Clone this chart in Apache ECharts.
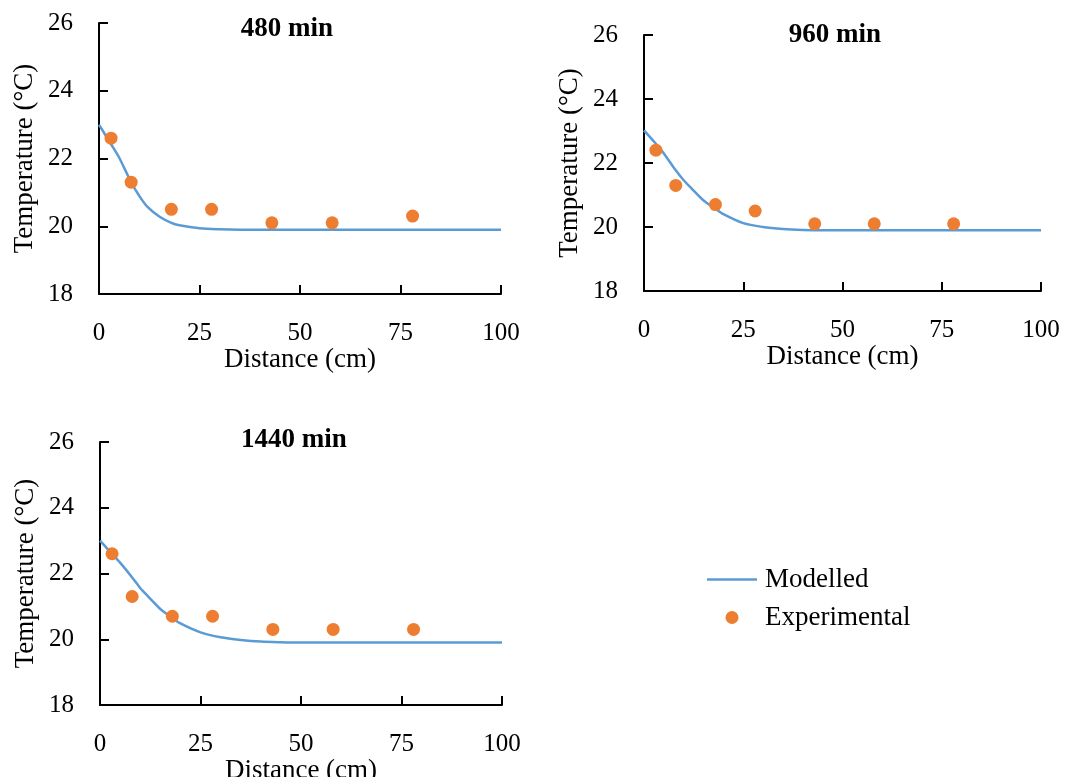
<!DOCTYPE html>
<html>
<head>
<meta charset="utf-8">
<script src="https://cdn.jsdelivr.net/npm/echarts@6/dist/echarts.min.js"></script>
<style>html,body{margin:0;padding:0;background:#fff}#c{width:1072px;height:777px}</style>
</head>
<body>
<div id="c"></div>
<script>
// ---- data ----
var panelTitles = ['480 min', '960 min', '1440 min'];
var expDistance = [3, 8, 18, 28, 43, 58, 78];
var exp480 = [22.6, 21.3, 20.5, 20.5, 20.1, 20.1, 20.3];
var exp960 = [22.4, 21.3, 20.7, 20.5, 20.1, 20.1, 20.1];
var exp1440 = [22.6, 21.3, 20.7, 20.7, 20.3, 20.3, 20.3];
var modelDistance = [0, 3, 5, 8, 10, 12, 15, 18, 20, 25, 30, 35, 40, 45, 50, 60, 70, 80, 90, 100];
var model480 = [23.0, 22.42, 22.03, 21.3, 20.9, 20.58, 20.29, 20.1, 20.03, 19.94, 19.91, 19.9, 19.9, 19.9, 19.9, 19.9, 19.9, 19.9, 19.9, 19.9];
var model960 = [23.02, 22.6, 22.3, 21.77, 21.46, 21.2, 20.83, 20.57, 20.4, 20.12, 20.0, 19.94, 19.91, 19.9, 19.9, 19.9, 19.9, 19.9, 19.9, 19.9];
var model1440 = [23.0, 22.6, 22.33, 21.88, 21.56, 21.3, 20.92, 20.65, 20.48, 20.21, 20.06, 19.98, 19.93, 19.91, 19.9, 19.9, 19.9, 19.9, 19.9, 19.9];
var xTicks = [0, 25, 50, 75, 100];
var yTicks = [18, 20, 22, 24, 26];
var xName = 'Distance (cm)';
var yName = 'Temperature (°C)';
var seriesNames = ['Modelled', 'Experimental'];

// ---- chart ----
var FONT = 'Liberation Serif';
var FS = 25, FSN = 27;
var BLUE = '#5B9BD5', ORANGE = '#ED7D31';
var grids = [
  {left: 99, top: 23, width: 402, height: 271, outerBoundsMode: 'none', containLabel: false},
  {left: 644, top: 35, width: 397, height: 256, outerBoundsMode: 'none', containLabel: false},
  {left: 100, top: 442, width: 402, height: 263, outerBoundsMode: 'none', containLabel: false}
];
var titlePos = [[287, 29], [835, 35], [294, 440]];
var exps = [exp480, exp960, exp1440];
var models = [model480, model960, model1440];

function pairs(xs, ys) { return xs.map(function (x, i) { return [x, ys[i]]; }); }

var axisLine = {show: true, lineStyle: {color: '#000', width: 2}};
var xAxes = [], yAxes = [], series = [], graphics = [];
grids.forEach(function (g, i) {
  xAxes.push({
    type: 'value', gridIndex: i, min: xTicks[0], max: xTicks[xTicks.length - 1],
    interval: xTicks[1] - xTicks[0],
    axisLine: axisLine, splitLine: {show: false},
    axisTick: {show: true, inside: true, length: 9, lineStyle: {color: '#000', width: 2}},
    axisLabel: {color: '#000', fontFamily: FONT, fontSize: FS, margin: 27},
    name: xName, nameLocation: 'middle', nameGap: 51,
    nameTextStyle: {color: '#000', fontFamily: FONT, fontSize: FSN}
  });
  yAxes.push({
    type: 'value', gridIndex: i, min: yTicks[0], max: yTicks[yTicks.length - 1],
    interval: yTicks[1] - yTicks[0],
    axisLine: axisLine, splitLine: {show: false},
    axisTick: {show: true, inside: true, length: 9, lineStyle: {color: '#000', width: 2}},
    axisLabel: {color: '#000', fontFamily: FONT, fontSize: FS, margin: 26},
    name: yName, nameLocation: 'middle', nameGap: 61,
    nameTextStyle: {color: '#000', fontFamily: FONT, fontSize: FSN}
  });
  series.push({
    name: seriesNames[0], type: 'line', xAxisIndex: i, yAxisIndex: i,
    data: pairs(modelDistance, models[i]), smooth: 0.3,
    symbol: 'none', showSymbol: false, lineStyle: {color: BLUE, width: 2.5}, itemStyle: {color: BLUE}, z: 2
  });
  series.push({
    name: seriesNames[1], type: 'scatter', xAxisIndex: i, yAxisIndex: i,
    data: pairs(expDistance, exps[i]), symbol: 'circle', symbolSize: 13,
    itemStyle: {color: ORANGE, opacity: 1}, z: 3
  });
  graphics.push({
    type: 'text', x: titlePos[i][0], y: titlePos[i][1],
    style: {text: panelTitles[i], fill: '#000', font: 'bold 27px "' + FONT + '"',
      textAlign: 'center', textVerticalAlign: 'middle'}
  });
});

var chart = echarts.init(document.getElementById('c'), null, {renderer: 'canvas'});
chart.setOption({
  animation: false,
  backgroundColor: '#fff',
  grid: grids,
  xAxis: xAxes,
  yAxis: yAxes,
  series: series,
  graphic: graphics,
  legend: {
    orient: 'vertical', left: 702, top: 561,
    itemWidth: 50, itemHeight: 13, itemGap: 11,
    textStyle: {color: '#000', fontFamily: FONT, fontSize: FSN, padding: [0, 0, 0, 3]},
    data: [
      {name: seriesNames[0], icon: 'path://M0,0L50,0L50,2.5L0,2.5Z', itemStyle: {color: BLUE}},
      {name: seriesNames[1], icon: 'circle', itemStyle: {color: ORANGE}}
    ]
  }
});
</script>
</body>
</html>
